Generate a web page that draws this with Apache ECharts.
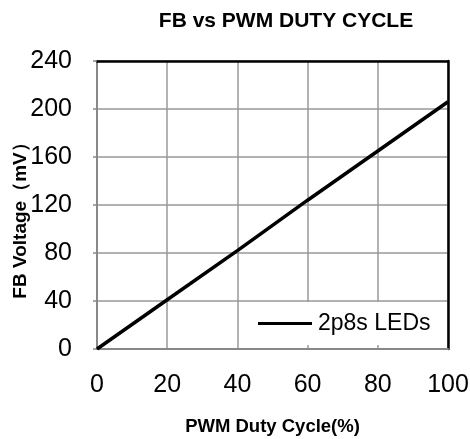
<!DOCTYPE html>
<html>
<head>
<meta charset="utf-8">
<script src="https://cdn.jsdelivr.net/npm/echarts@6/dist/echarts.min.js"></script>
<style>
  html, body { margin: 0; padding: 0; background: #fff; }
  #chart { width: 470px; height: 439px; }
</style>
</head>
<body>
<div id="chart"></div>
<script>
// PWM duty cycle (%) and measured FB voltage (mV)
const dutyCycle = [0, 20, 40, 60, 80, 100];
const fbVoltage = [0, 41, 82, 124, 165, 206];
const seriesName = '2p8s LEDs';
const xTicks = { min: 0, max: 100, interval: 20 };
const yTicks = { min: 0, max: 240, interval: 40 };

const FONT = '"Liberation Sans", "Noto Sans", sans-serif';
const chart = echarts.init(document.getElementById('chart'), null, { renderer: 'canvas' });

chart.setOption({
  animation: false,
  backgroundColor: '#fff',
  title: {
    text: 'FB vs PWM DUTY CYCLE',
    left: 281, top: 6, textAlign: 'center',
    textStyle: { fontFamily: FONT, fontSize: 21, fontWeight: 'bold', color: '#000' }
  },
  grid: { left: 97, right: 22, top: 61, bottom: 90, containLabel: false, outerBoundsMode: 'none' },
  legend: {
    data: [seriesName],
    left: 243, top: 302,
    padding: [10, 11, 10, 15],
    backgroundColor: '#fff',
    itemWidth: 54, itemHeight: 3, itemGap: 6,
    icon: 'rect',
    textStyle: { fontFamily: FONT, fontSize: 23, color: '#000', padding: [0, 0, 0, 1] }
  },
  xAxis: [{
    type: 'value', min: xTicks.min, max: xTicks.max, interval: xTicks.interval,
    name: 'PWM Duty Cycle(%)', nameLocation: 'middle', nameGap: 68, nameMoveOverlap: false,
    nameTextStyle: { fontFamily: FONT, fontSize: 18.5, fontWeight: 'bold', color: '#000' },
    axisLine: { show: true, lineStyle: { color: '#888', width: 2 } },
    axisTick: { show: false },
    axisLabel: { fontFamily: FONT, fontSize: 25, color: '#000', margin: 24 },
    splitLine: { show: true, lineStyle: { color: '#999', width: 1.5 } }
  }, {
    type: 'value', position: 'top', min: xTicks.min, max: xTicks.max,
    axisLine: { show: true, onZero: false, lineStyle: { color: '#000', width: 2.5 } },
    axisTick: { show: false }, axisLabel: { show: false }, splitLine: { show: false }
  }],
  yAxis: [{
    type: 'value', min: yTicks.min, max: yTicks.max, interval: yTicks.interval,
    name: 'FB Voltage（mV）', nameLocation: 'middle', nameGap: 67, nameMoveOverlap: false,
    nameTextStyle: { fontFamily: FONT, fontSize: 19, fontWeight: 'bold', color: '#000', padding: [0, 22, 0, 0] },
    axisLine: { show: true, lineStyle: { color: '#888', width: 2 } },
    axisTick: { show: true, length: 4, lineStyle: { color: '#888', width: 1.5 } },
    axisLabel: { fontFamily: FONT, fontSize: 25, color: '#000', margin: 25 },
    splitLine: { show: true, lineStyle: { color: '#999', width: 1.5 } }
  }, {
    type: 'value', position: 'right', min: yTicks.min, max: yTicks.max,
    axisLine: { show: true, onZero: false, lineStyle: { color: '#000', width: 2.5 } },
    axisTick: { show: false }, axisLabel: { show: false }, splitLine: { show: false }
  }],
  series: [{
    name: seriesName,
    type: 'line',
    data: dutyCycle.map((d, i) => [d, fbVoltage[i]]),
    showSymbol: false,
    lineStyle: { color: '#000', width: 3.5 },
    itemStyle: { color: '#000' },
    z: 5
  }]
});
</script>
</body>
</html>
